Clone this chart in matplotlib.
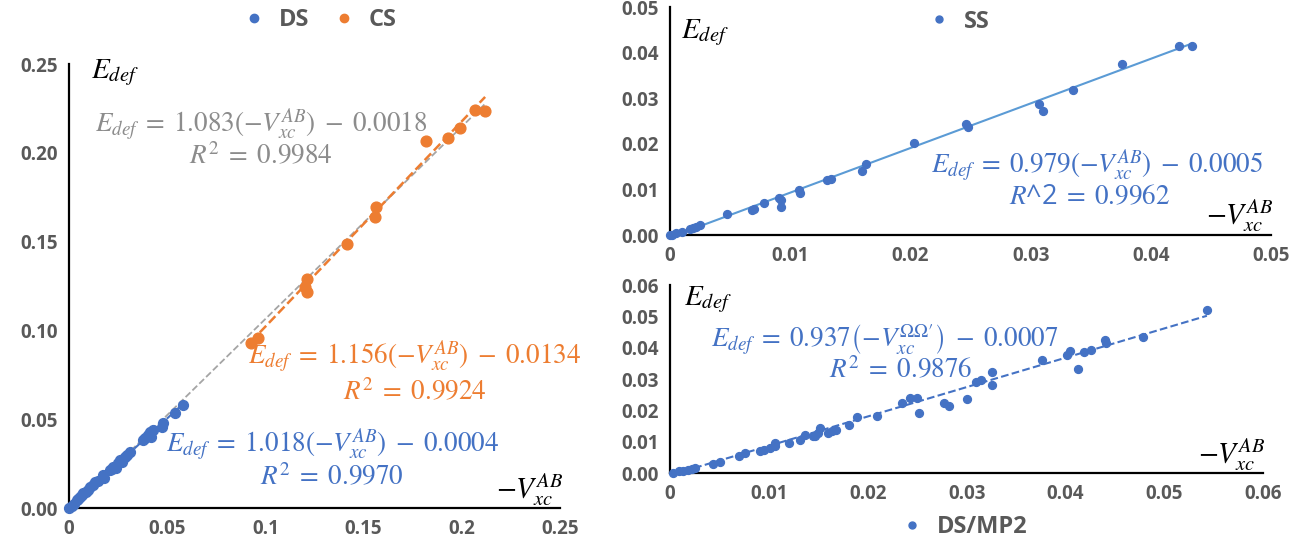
import numpy as np
import matplotlib
matplotlib.use("Agg")
import matplotlib.pyplot as plt
from matplotlib.lines import Line2D

plt.rcParams['font.family'] = ['Open Sans', 'DejaVu Sans']
plt.rcParams['mathtext.fontset'] = 'stix'

# ---- data ----
# left panel: DS and CS
ds_x = [0.0002, 0.0014, 0.0025, 0.0039, 0.0048, 0.0056, 0.0065, 0.0073, 0.0085, 0.0095,
        0.0107, 0.0120, 0.0132, 0.0150, 0.0175, 0.0180, 0.0209, 0.0218, 0.0226, 0.0240,
        0.0251, 0.0260, 0.0270, 0.0285, 0.0294, 0.0311, 0.0378, 0.0387, 0.0404, 0.0412,
        0.0420, 0.0429, 0.0472, 0.0480, 0.0540, 0.0582]
ds_y = [0.0001, 0.0011, 0.0022, 0.0045, 0.0052, 0.0064, 0.0072, 0.0083, 0.0091, 0.0100,
        0.0120, 0.0128, 0.0148, 0.0155, 0.0186, 0.0172, 0.0214, 0.0220, 0.0233, 0.0226,
        0.0252, 0.0270, 0.0262, 0.0290, 0.0298, 0.0317, 0.0383, 0.0392, 0.0411, 0.0430,
        0.0402, 0.0439, 0.0458, 0.0477, 0.0533, 0.0580]
cs_x = [0.0925, 0.0963, 0.1214, 0.1204, 0.1214, 0.1418, 0.1561, 0.1558, 0.1816, 0.1932,
        0.1991, 0.2068, 0.2119]
cs_y = [0.0929, 0.0960, 0.1288, 0.1246, 0.1215, 0.1485, 0.1695, 0.1639, 0.2068, 0.2087,
        0.2140, 0.2242, 0.2237]

# top right: SS
ss_x = [0.0000, 0.0002, 0.0005, 0.0010, 0.0017, 0.0019, 0.0022, 0.0025, 0.0047, 0.0068,
        0.0070, 0.0078, 0.0091, 0.0092, 0.0092, 0.0107, 0.0108, 0.0131, 0.0134, 0.0160,
        0.0163, 0.0203, 0.0246, 0.0248, 0.0307, 0.0310, 0.0335, 0.0376, 0.0423, 0.0434]
ss_y = [0.0000, 0.0001, 0.0004, 0.0007, 0.0013, 0.0015, 0.0018, 0.0021, 0.0046, 0.0055,
        0.0057, 0.0071, 0.0082, 0.0076, 0.0062, 0.0099, 0.0092, 0.0121, 0.0122, 0.0140,
        0.0155, 0.0201, 0.0243, 0.0238, 0.0287, 0.0272, 0.0317, 0.0375, 0.0414, 0.0414]

# bottom right: DS/MP2
mp2_x = [0.0003, 0.0009, 0.0013, 0.0018, 0.0022, 0.0025, 0.0043, 0.0051, 0.0070, 0.0076,
         0.0091, 0.0095, 0.0101, 0.0106, 0.0106, 0.0120, 0.0131, 0.0137, 0.0145, 0.0147,
         0.0152, 0.0150, 0.0160, 0.0164, 0.0168, 0.0181, 0.0189, 0.0209, 0.0235, 0.0243,
         0.0250, 0.0252, 0.0277, 0.0282, 0.0300, 0.0309, 0.0315, 0.0326, 0.0326, 0.0376,
         0.0401, 0.0405, 0.0413, 0.0419, 0.0426, 0.0440, 0.0441, 0.0478, 0.0543]
mp2_y = [0.0000, 0.0005, 0.0008, 0.0011, 0.0013, 0.0016, 0.0029, 0.0034, 0.0053, 0.0064,
         0.0071, 0.0074, 0.0080, 0.0096, 0.0085, 0.0096, 0.0106, 0.0122, 0.0117, 0.0119,
         0.0143, 0.0127, 0.0127, 0.0133, 0.0138, 0.0154, 0.0180, 0.0183, 0.0223, 0.0239,
         0.0239, 0.0191, 0.0223, 0.0214, 0.0236, 0.0292, 0.0297, 0.0321, 0.0281, 0.0361,
         0.0377, 0.0390, 0.0332, 0.0387, 0.0393, 0.0423, 0.0416, 0.0433, 0.0520]

# trend lines (slope, intercept) as printed on the chart
fit_ds = (1.018, -0.0004)
fit_cs = (1.156, -0.0134)
fit_all = (1.083, -0.0018)
fit_ss = (0.979, -0.0005)
fit_mp2 = (0.937, -0.0007)

blue = '#4472C4'
orange = '#ED7D31'
gray = '#A5A5A5'
tick_col = '#595959'
eq_size = 19.5
lab_size = 21


def style_axes(ax, xmax, ymax, xticks, xlabels, ylabels):
    ax.set_xlim(0, xmax)
    ax.set_ylim(0, ymax)
    for s in ['top', 'right']:
        ax.spines[s].set_visible(False)
    for s in ['left', 'bottom']:
        ax.spines[s].set_linewidth(1.6)
        ax.spines[s].set_color('black')
    ax.set_xticks(xticks)
    ax.set_xticklabels(xlabels)
    ax.set_yticks(np.linspace(0, ymax, len(ylabels)))
    ax.set_yticklabels(ylabels)
    ax.tick_params(length=0, labelsize=13.5, labelcolor=tick_col, pad=8)
    for lab in ax.get_xticklabels() + ax.get_yticklabels():
        lab.set_fontweight('bold')


def trend(ax, xs, fit, **kw):
    xr = np.array([min(xs), max(xs)])
    ax.plot(xr, fit[0] * xr + fit[1], **kw)


def legend_at(handles, names, pos, ncol=1):
    lg = fig.legend(handles, names, loc='center', bbox_to_anchor=pos, ncol=ncol,
                    frameon=False, handletextpad=0.05, columnspacing=0.45,
                    prop={'family': 'Open Sans', 'size': 17, 'weight': 'bold'})
    for t in lg.get_texts():
        t.set_color(tick_col)


fig = plt.figure(figsize=(13.01, 5.44), dpi=100)

# ---- left panel ----
ax1 = fig.add_axes([0.053, 0.066, 0.3774, 0.816])
style_axes(ax1, 0.25, 0.25, [0, 0.05, 0.1, 0.15, 0.2, 0.25],
           ['0', '0.05', '0.1', '0.15', '0.2', '0.25'],
           ['0.00', '0.05', '0.10', '0.15', '0.20', '0.25'])
ax1.scatter(ds_x, ds_y, s=50, color=blue, zorder=3, clip_on=False)
ax1.scatter(cs_x, cs_y, s=60, color=orange, zorder=3, clip_on=False)
trend(ax1, ds_x + cs_x, fit_all, color=gray, lw=1.3, ls='--', zorder=2)
trend(ax1, cs_x, fit_cs, color=orange, lw=1.8, ls='--', zorder=4)
trend(ax1, ds_x, fit_ds, color=blue, lw=1.5, ls='--', zorder=4)

ax1.text(0.0234, 0.2455, r'$E_{def}$', fontsize=lab_size, ha='center', va='center')
ax1.text(0.0978, 0.2157, r'$E_{def}\;=\;1.083(-V_{xc}^{AB})\;-\;0.0018$', color='#8C8C8C',
         fontsize=eq_size, ha='center', va='center')
ax1.text(0.0978, 0.1976, r'$R^2\;=\;0.9984$', color='#8C8C8C', fontsize=eq_size,
         ha='center', va='center')
ax1.text(0.176, 0.085, r'$E_{def}\;=\;1.156(-V_{xc}^{AB})\;-\;0.0134$', color=orange,
         fontsize=eq_size, ha='center', va='center')
ax1.text(0.176, 0.0648, r'$R^2\;=\;0.9924$', color=orange, fontsize=eq_size,
         ha='center', va='center')
ax1.text(0.134, 0.0355, r'$E_{def}\;=\;1.018(-V_{xc}^{AB})\;-\;0.0004$', color=blue,
         fontsize=eq_size, ha='center', va='center')
ax1.text(0.134, 0.0169, r'$R^2\;=\;0.9970$', color=blue, fontsize=eq_size,
         ha='center', va='center')
ax1.text(0.2347, 0.0101, r'$-V_{xc}^{AB}$', fontsize=lab_size, ha='center', va='center')

legend_at([Line2D([], [], ls='', marker='o', ms=6, color=blue),
           Line2D([], [], ls='', marker='o', ms=6, color=orange)],
          ['DS', 'CS'], (0.241, 0.963), ncol=2)

# ---- top right: SS ----
ax2 = fig.add_axes([0.515, 0.568, 0.462, 0.419])
style_axes(ax2, 0.05, 0.05, [0, 0.01, 0.02, 0.03, 0.04, 0.05],
           ['0', '0.01', '0.02', '0.03', '0.04', '0.05'],
           ['0.00', '0.01', '0.02', '0.03', '0.04', '0.05'])
ax2.scatter(ss_x, ss_y, s=32, color=blue, zorder=3, clip_on=False)
trend(ax2, ss_x, fit_ss, color='#5B9BD5', lw=1.5, zorder=2)

ax2.text(0.0029, 0.0443, r'$E_{def}$', fontsize=lab_size, ha='center', va='center')
ax2.text(0.0355, 0.0151, r'$E_{def}\;=\;0.979(-V_{xc}^{AB})\;-\;0.0005$', color=blue,
         fontsize=eq_size, ha='center', va='center')
ax2.text(0.0349, 0.0082, r'$R$^2$\;=\;0.9962$', color=blue, fontsize=eq_size,
         ha='center', va='center')
ax2.text(0.0474, 0.0043, r'$-V_{xc}^{AB}$', fontsize=lab_size, ha='center', va='center')

legend_at([Line2D([], [], ls='', marker='o', ms=5, color=blue)], ['SS'], (0.732, 0.96))

# ---- bottom right: DS/MP2 ----
ax3 = fig.add_axes([0.515, 0.1305, 0.456, 0.3456])
style_axes(ax3, 0.06, 0.06, [0, 0.01, 0.02, 0.03, 0.04, 0.05, 0.06],
           ['0', '0.01', '0.02', '0.03', '0.04', '0.05', '0.06'],
           ['0.00', '0.01', '0.02', '0.03', '0.04', '0.05', '0.06'])
ax3.scatter(mp2_x, mp2_y, s=32, color=blue, zorder=3, clip_on=False)
trend(ax3, mp2_x, fit_mp2, color=blue, lw=1.5, ls='--', zorder=2)

ax3.text(0.0038, 0.0552, r'$E_{def}$', fontsize=lab_size, ha='center', va='center')
ax3.text(0.0217, 0.0425,
         r"$E_{def}\;=\;0.937\left(-V_{xc}^{\Omega\Omega\prime}\right)\;-\;0.0007$",
         color=blue, fontsize=eq_size, ha='center', va='center')
ax3.text(0.0233, 0.0323, r'$R^2\;=\;0.9876$', color=blue, fontsize=eq_size,
         ha='center', va='center')
ax3.text(0.0568, 0.0058, r'$-V_{xc}^{AB}$', fontsize=lab_size, ha='center', va='center')

legend_at([Line2D([], [], ls='', marker='o', ms=5, color=blue)], ['DS/MP2'], (0.736, 0.031))

fig.savefig('out.png', dpi=100)
